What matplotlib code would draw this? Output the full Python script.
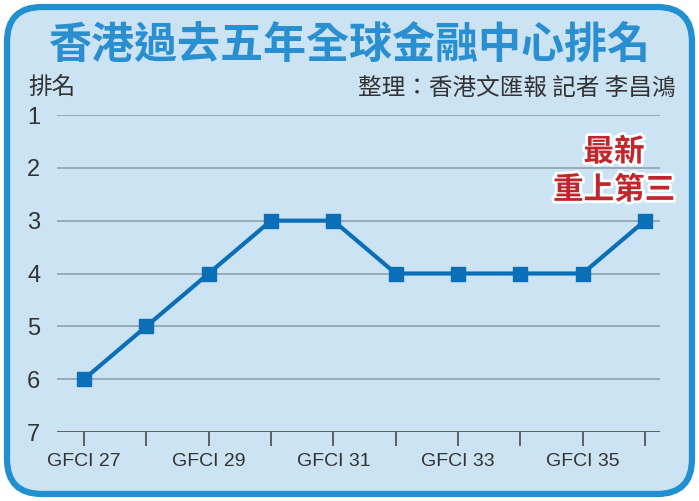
import matplotlib.pyplot as plt
import matplotlib.patches as patches
import matplotlib.patheffects as pe

plt.rcParams['font.family'] = ['Noto Sans CJK TC', 'DejaVu Sans']

# data
editions = ['GFCI 27', 'GFCI 28', 'GFCI 29', 'GFCI 30', 'GFCI 31',
            'GFCI 32', 'GFCI 33', 'GFCI 34', 'GFCI 35', 'GFCI 36']
ranks = [6, 5, 4, 3, 3, 4, 4, 4, 4, 3]
rank_ticks = [1, 2, 3, 4, 5, 6, 7]

W, H = 699, 501
fig = plt.figure(figsize=(W / 100, H / 100), dpi=100)
fig.patch.set_facecolor('white')

# rounded frame
frame = patches.FancyBboxPatch((7 / W, 7 / H), 685 / W, 487 / H,
                               boxstyle='round,pad=0,rounding_size=0.05',
                               transform=fig.transFigure, facecolor='#cce3f4',
                               edgecolor='#2190d0', linewidth=4.5, mutation_aspect=W / H,
                               zorder=-5)
fig.patches.append(frame)

# axes area in pixels: x 57..660, y 115..432
ax = fig.add_axes([57 / W, (H - 432) / H, (660 - 57) / W, (432 - 115) / H])
ax.set_zorder(2)
ax.set_facecolor('none')
x = list(range(len(editions)))

for r in rank_ticks[:-1]:
    ax.axhline(r, color='#8c9aa6', linewidth=1.1, zorder=1)
ax.axhline(7, color='#555555', linewidth=1.3, zorder=1)

ax.plot(x, ranks, color='#0b6fb8', linewidth=3, marker='s', markersize=10,
        markerfacecolor='#0b6fb8', markeredgecolor='#0b6fb8', zorder=3, clip_on=False)

ax.set_xlim(-0.433, 9.24)
ax.set_ylim(7, 1)
for s in ax.spines.values():
    s.set_visible(False)

num_font = ['Liberation Sans', 'DejaVu Sans']
ax.set_yticks(rank_ticks)
ax.set_yticklabels([str(r) for r in rank_ticks], family=num_font,
                   fontsize=17, color='#333333')
ax.tick_params(axis='y', length=0, pad=12)

ax.set_xticks(x)
ax.set_xticklabels([e if i % 2 == 0 else '' for i, e in enumerate(editions)],
                   family=num_font, fontsize=14, color='#333333')
ax.tick_params(axis='x', direction='out', length=10, width=1.3, color='#555555', pad=5)

# texts
fig.text(349 / W, 1 - 45 / H, '香港過去五年全球金融中心排名', ha='center', va='center',
         fontsize=31, fontweight='bold', color='#2a8fd0')
fig.text(28 / W, 1 - 87 / H, '排名', ha='left', va='center', fontsize=17, color='#333333')
fig.text(676 / W, 1 - 88 / H, '整理：香港文匯報 記者 李昌鴻', ha='right', va='center',
         fontsize=17, color='#333333')

stroke = [pe.withStroke(linewidth=4, foreground='white')]
fig.text(614 / W, 1 - 152 / H, '最新', ha='center', va='center', fontsize=22,
         fontweight='bold', color='#c0272d', path_effects=stroke)
fig.text(614 / W, 1 - 190 / H, '重上第三', ha='center', va='center', fontsize=22,
         fontweight='bold', color='#c0272d', path_effects=stroke)

fig.savefig('out.png', dpi=100, facecolor='white')
